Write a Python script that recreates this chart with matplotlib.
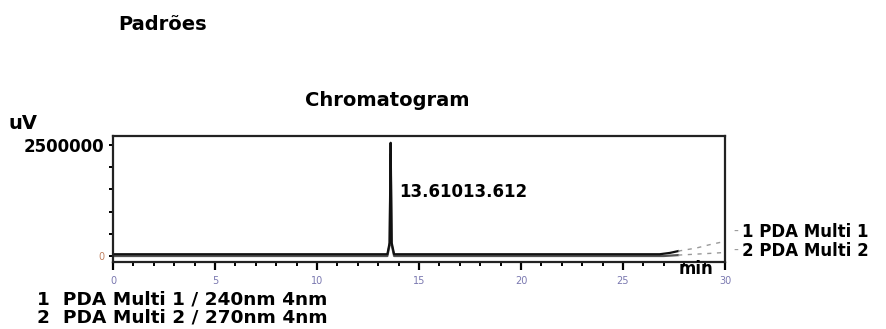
import matplotlib.pyplot as plt
from matplotlib.ticker import MultipleLocator

# retention time (min) and detector signal (uV) for both PDA channels
time_ch1 = [0.0, 5.0, 10.0, 13.45, 13.56, 13.61, 13.66, 13.78, 20.0, 26.8, 27.3, 27.7]
signal_ch1 = [40000, 40000, 40000, 40000, 300000, 2550000, 300000, 40000, 40000, 40000, 70000, 110000]
time_ch2 = [0.0, 5.0, 10.0, 13.45, 13.56, 13.61, 13.66, 13.78, 20.0, 27.0, 27.7]
signal_ch2 = [0, 0, 0, 0, 250000, 2300000, 250000, 0, 0, 0, 20000]

# tail of the run (drift after ~27.7 min)
tail_time_ch1 = [27.7, 28.6, 29.2, 30.0]
tail_signal_ch1 = [110000, 180000, 250000, 330000]
tail_time_ch2 = [27.7, 28.5, 29.3, 30.0]
tail_signal_ch2 = [20000, 40000, 60000, 80000]

peak_labels = ["13.610", "13.612"]
channel_names = ["1 PDA Multi 1", "2 PDA Multi 2"]
legend_lines = ["1  PDA Multi 1 / 240nm 4nm", "2  PDA Multi 2 / 270nm 4nm"]

W, H = 886, 329
fig = plt.figure(figsize=(W / 100, H / 100), dpi=100)
plt.rcParams['font.family'] = ['DejaVu Sans']

def fx(px):
    return px / W

def fy(py):
    return 1 - py / H

ax = fig.add_axes([fx(113), fy(262), fx(725) - fx(113), fy(136) - fy(262)])

ax.plot(time_ch2, signal_ch2, color='#555555', linewidth=1.6)
ax.plot(time_ch1, signal_ch1, color='#111111', linewidth=1.6)
ax.plot(tail_time_ch1, tail_signal_ch1, color='#999999', linewidth=1.0, linestyle=(0, (3, 4)))
ax.plot(tail_time_ch2, tail_signal_ch2, color='#999999', linewidth=1.0, linestyle=(0, (3, 4)))

ax.set_xlim(0, 30)
ax.set_ylim(-135000, 2703000)

for s in ax.spines.values():
    s.set_linewidth(1.6)
    s.set_color('#222222')

ax.xaxis.set_major_locator(MultipleLocator(5))
ax.xaxis.set_minor_locator(MultipleLocator(1))
ax.tick_params(axis='x', which='major', direction='out', length=6, width=1.6,
               pad=4, labelsize=7, labelcolor='#7a78b0')
ax.tick_params(axis='x', which='minor', direction='out', length=3, width=1.4)

ax.set_yticks([0, 2500000])
ax.set_yticklabels(['0', '2500000'])
ax.yaxis.set_minor_locator(MultipleLocator(500000))
ax.tick_params(axis='y', which='both', direction='out', length=3, width=1.4, pad=3)
lbls = ax.get_yticklabels()
lbls[0].set_fontsize(7)
lbls[0].set_color('#c08060')
lbls[1].set_fontsize(12)
lbls[1].set_fontweight('bold')

# peak label
ax.text(13.61 + 0.4, 1450000, "".join(peak_labels), fontsize=12,
        fontweight='bold', va='center', ha='left')

# header and axis captions
fig.text(fx(118), fy(24), "Padrões", fontsize=14, fontweight='bold', va='center')
fig.text(fx(387), fy(101), "Chromatogram", fontsize=14, fontweight='bold',
         va='center', ha='center')
fig.text(fx(8), fy(123), "uV", fontsize=14, fontweight='bold', va='center')
fig.text(fx(713), fy(269), "min", fontsize=12, fontweight='bold', va='center', ha='right')

# channel tags on the right
for name, y in zip(channel_names, [232, 251]):
    fig.text(fx(733), fy(y), "-", fontsize=10, color='#999999', va='center')
    fig.text(fx(742), fy(y), name, fontsize=12, fontweight='bold', va='center')

# channel legend at the bottom
for line, y in zip(legend_lines, [300, 318]):
    fig.text(fx(37), fy(y), line, fontsize=13.3, fontweight='bold', va='center')

fig.savefig('out.png', dpi=100)
